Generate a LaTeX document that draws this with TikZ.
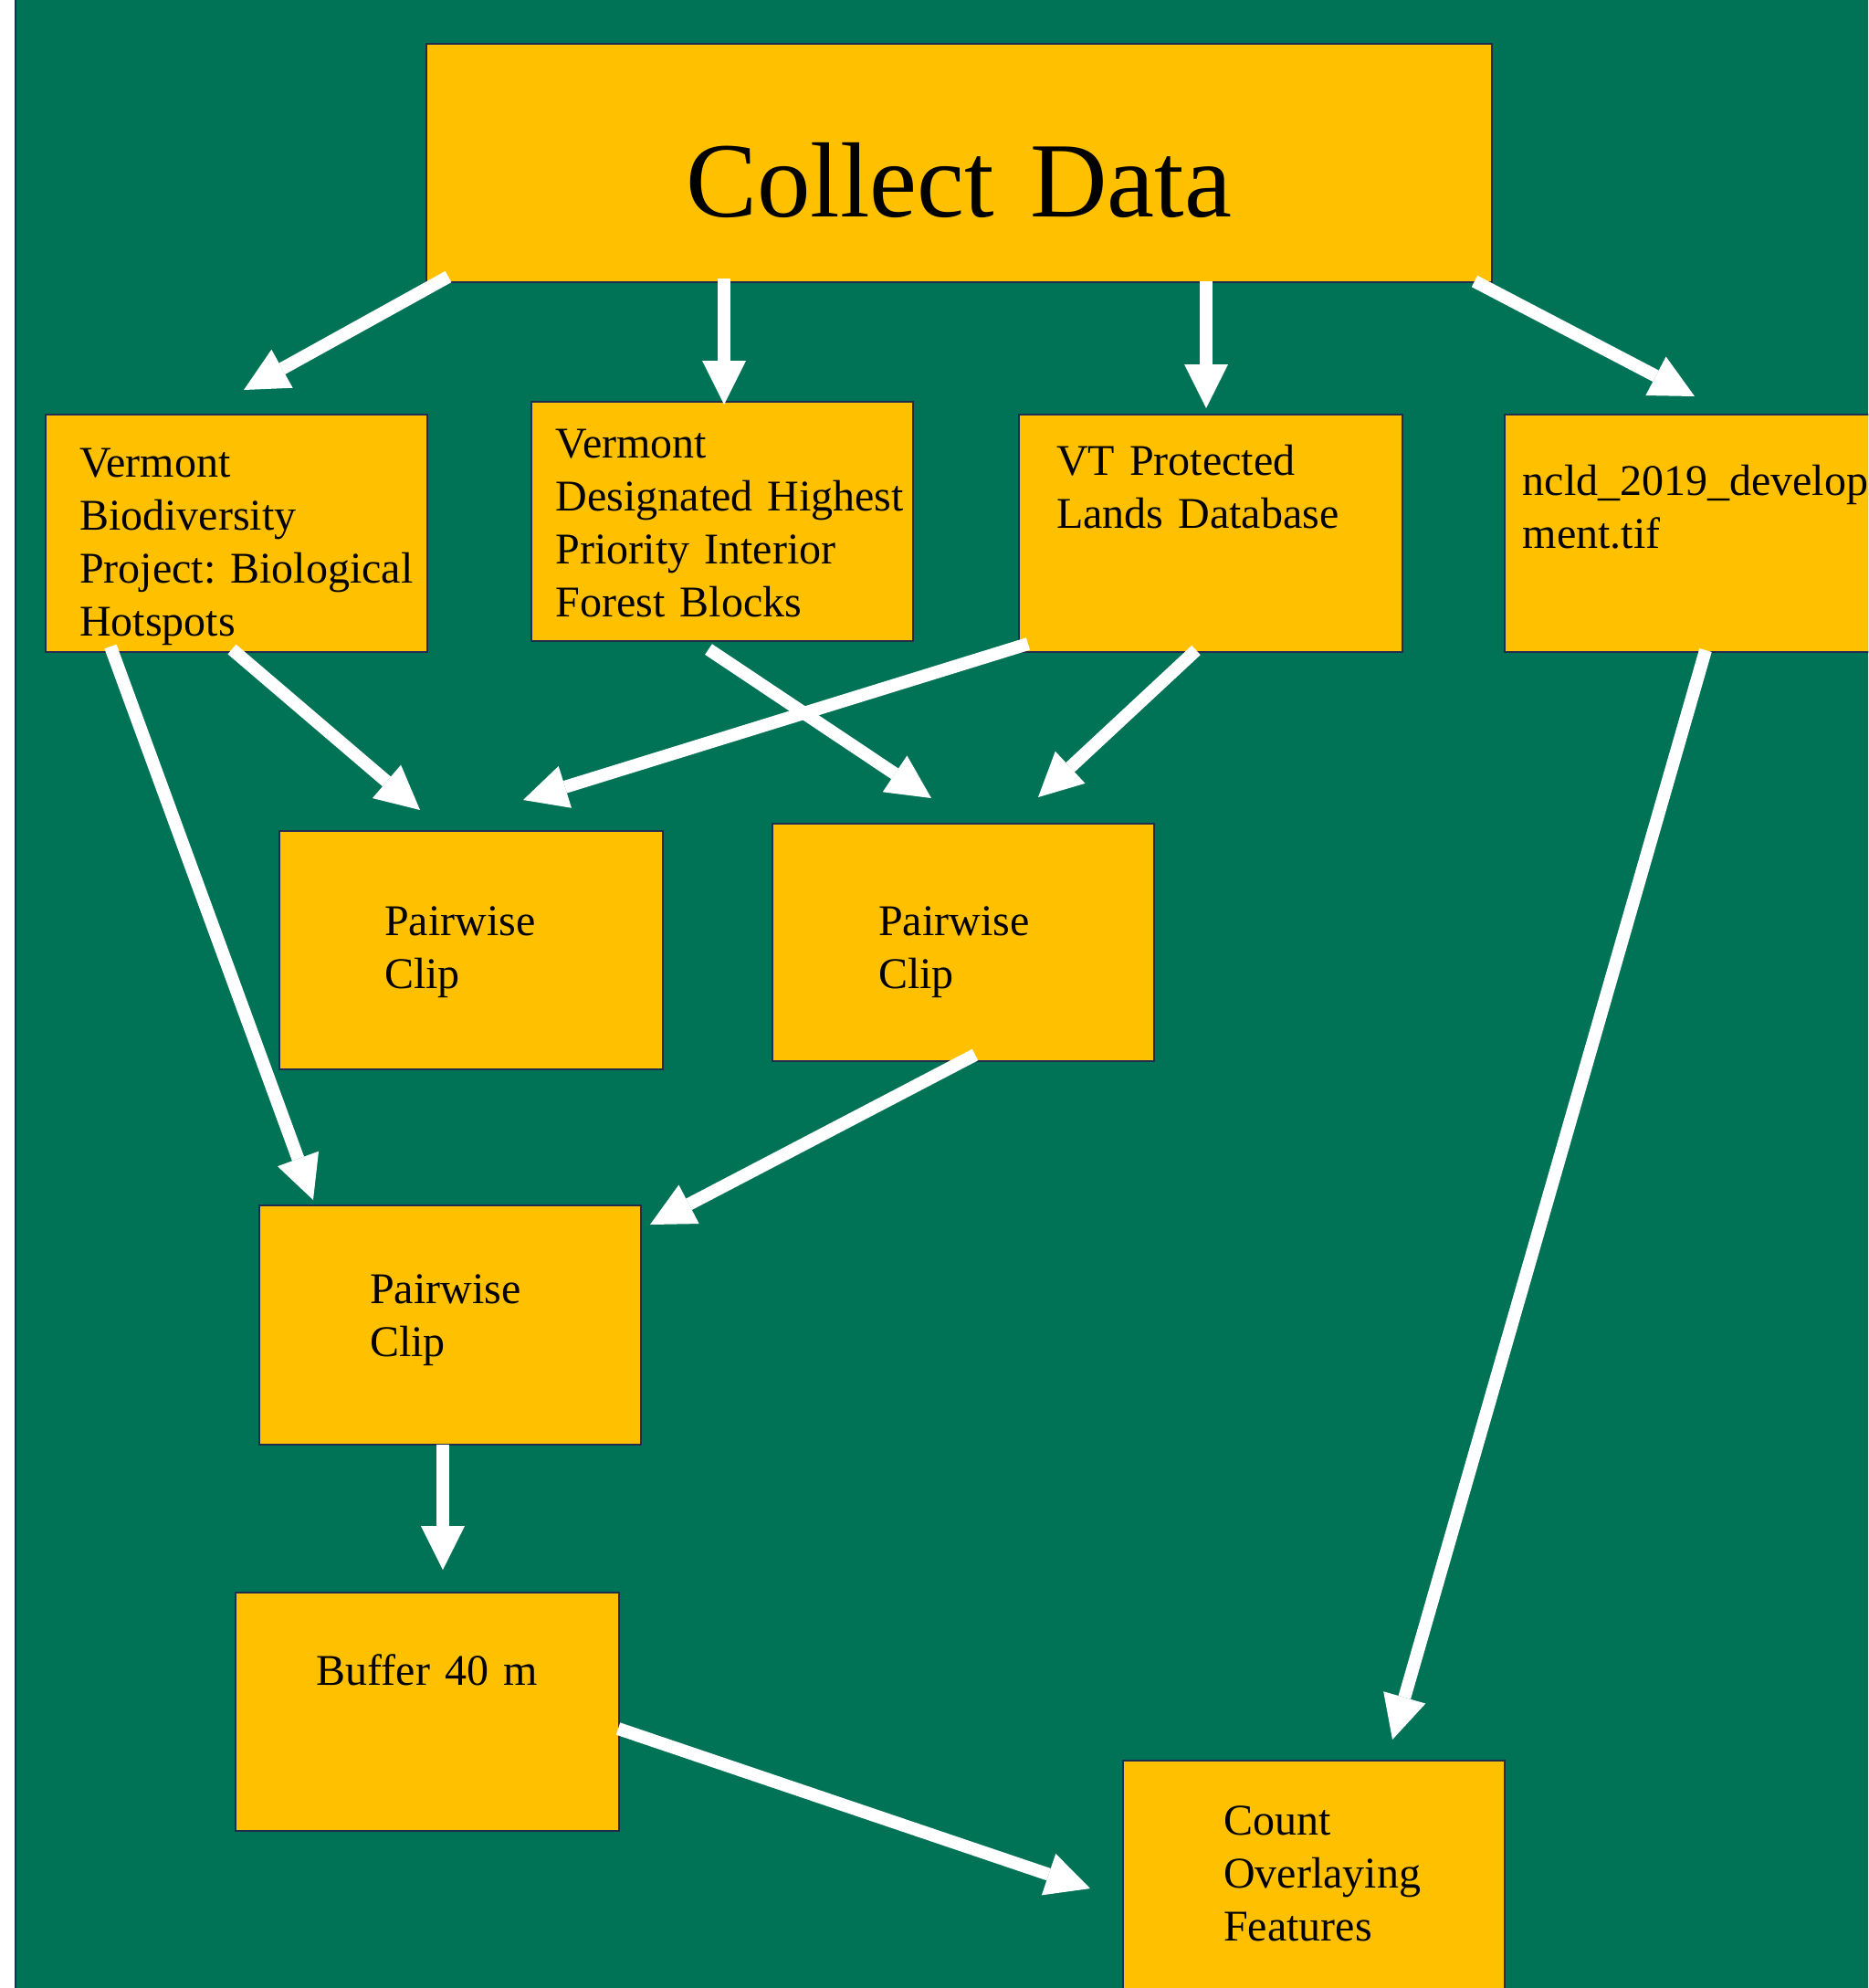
\documentclass[tikz,border=0pt]{standalone}
\usepackage{fontspec}
\setmainfont{Liberation Serif}
\usetikzlibrary{arrows.meta,calc}
\definecolor{bggreen}{HTML}{007256}
\definecolor{boxyellow}{HTML}{FFC000}
\definecolor{navyline}{HTML}{1F2C4C}
\frenchspacing
\begin{document}
\begin{tikzpicture}[x=1pt,y=-1pt,
  box/.style={draw=navyline, line width=2.5pt, fill=boxyellow, minimum width=418pt, minimum height=260pt, inner sep=0pt, outer sep=0pt},
  lbl/.style={anchor=base west, inner sep=0pt, text width=700pt, align=left, font=\fontsize{48}{58}\selectfont\frenchspacing, text=black},
  conn/.style={draw=white, line width=14pt, -{Triangle[length=48pt,width=48pt,line width=0pt]}}]
\clip (0,0) rectangle (2046,2177);
\fill[white] (0,0) rectangle (2046,2177);
\draw[navyline, line width=2.5pt, fill=bggreen] (17,-20) rectangle (2080,2200);

% boxes
\node[box, minimum width=1167pt, minimum height=261pt] (cd) at (1050.5,178.5) {};
\node[box] (vb) at (259,584) {};
\node[box, minimum height=262pt] (vd) at (791,571) {};
\node[box, minimum width=420pt] (vt) at (1326,584) {};
\node[box] (nc) at (1857,584) {};
\node[box, minimum width=420pt, minimum height=261pt] (p1) at (516,1040.5) {};
\node[box] (p2) at (1055,1032) {};
\node[box, minimum height=262pt] (p3) at (493,1451) {};
\node[box, minimum width=420pt, minimum height=261pt] (bf) at (468,1874.5) {};
\node[box] (co) at (1439,2058) {};

% texts
\node[lbl, font=\fontsize{117}{140}\selectfont] (cdt) at (751,237) {Collect Data};
\node[lbl] (vbt) at (87,522.7) {Vermont\\Biodiversity\\Project: Biological\\Hotspots};
\node[lbl] (vdt) at (608.5,501.7) {Vermont\\Designated Highest\\Priority Interior\\Forest Blocks};
\node[lbl] (vtt) at (1157,520) {VT Protected\\Lands Database};
\node[lbl] (nct) at (1667.5,542.7) {ncld\_2019\_develop\\ment.tif};
\node[lbl] (p1t) at (421,1024) {Pairwise\\Clip};
\node[lbl] (p2t) at (962,1024) {Pairwise\\Clip};
\node[lbl] (p3t) at (405,1427.7) {Pairwise\\Clip};
\node[lbl] (bft) at (346.5,1845.7) {Buffer 40 m};
\node[lbl] (cot) at (1340,2009) {Count\\Overlaying\\Features};

% connectors
\draw[conn] ($(cd.south west)+(24,-6)$) -- ($(vb.north)+(8,-27)$);
\draw[conn] ($(cd.south west)+(326,-4)$) -- ($(vd.north)+(2,3)$);
\draw[conn] ($(cd.south east)+(-313,-1)$) -- ($(vt.north)+(-5,-7)$);
\draw[conn] ($(cd.south east)+(-19,-1)$) -- ($(nc.north)+(-1,-20)$);
\draw[conn] ($(vb.south west)+(71,-6)$) -- ($(p3.north west)+(59,-6)$);
\draw[conn] ($(vb.south)+(-5,-3)$) -- ($(p1.north)+(-56,-23)$);
\draw[conn] ($(vt.south west)+(10,-9)$) -- ($(p1.north)+(57,-34)$);
\draw[conn] ($(vd.south)+(-15,9)$) -- ($(p2.north)+(-35,-28)$);
\draw[conn] ($(vt.south)+(-16,-2)$) -- ($(p2.north)+(82,-29)$);
\draw[conn] ($(p2.south)+(13,-7)$) -- ($(p3.north east)+(10,21)$);
\draw[conn] ($(p3.south)+(-8,0)$) -- ($(bf.north)+(17,-25)$);
\draw[conn] ($(nc.south)+(11,-2)$) -- ($(co.north)+(86,-23)$);
\draw[conn] ($(bf.east)+(-1,18.5)$) -- ($(co.west)+(-36,10)$);
\end{tikzpicture}
\end{document}
